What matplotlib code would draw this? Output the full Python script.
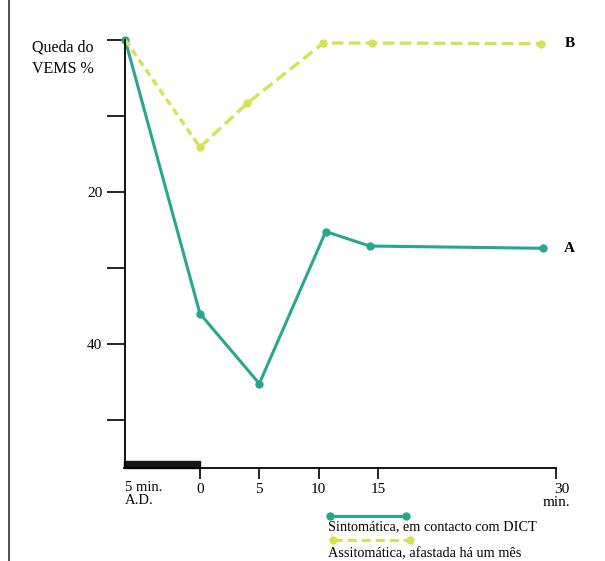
import matplotlib
matplotlib.use("Agg")
import matplotlib.pyplot as plt
from matplotlib.lines import Line2D
from matplotlib.patches import Rectangle
import matplotlib.transforms as mtransforms

plt.rcParams['font.family'] = ['Liberation Serif', 'DejaVu Serif']

# minutos (o ponto -6.3 corresponde a "5 min. A.D.")
x_sint = [-6.3, 0, 5.0, 10.6, 14.3, 28.9]
y_sint = [0, 36.0, 45.2, 25.2, 27.1, 27.4]

x_assint = [-6.3, 0, 4.0, 10.4, 14.5, 28.7]
y_assint = [0, 14.1, 8.3, 0.4, 0.4, 0.5]

yticks = [0, 10, 20, 30, 40, 50]
ytick_labels = ["", "", "20", "", "40", ""]
xticks = [0, 5, 10, 15, 30]
xtick_labels = ["0", "5", "10", "15", "30\nmin."]

verde = "#2aa58f"
amarelo = "#d4e256"

fig = plt.figure(figsize=(6.05, 5.61), dpi=100)
ax = fig.add_axes([124.5 / 605, 1 - 468 / 561, (556 - 124.5) / 605, (468 - 40) / 561])

ax.plot(x_sint, y_sint, color=verde, lw=2.2, marker="o", ms=5, clip_on=False)
ax.plot(x_assint[1:], y_assint[1:], color=amarelo, lw=2.4, ls=(0, (3.5, 1.6)),
        marker="o", ms=5, clip_on=False)
ax.plot(x_assint[:2], y_assint[:2], color=amarelo, lw=2.4, ls=(0, (2.2, 1.4)), clip_on=False)

ax.set_xlim(-6.36, 30)
ax.set_ylim(56.3, 0)

for s in ["top", "right"]:
    ax.spines[s].set_visible(False)
ax.spines["left"].set_linewidth(1.3)
ax.spines["bottom"].set_linewidth(1.3)

ax.set_yticks(yticks)
ax.set_yticklabels(ytick_labels, fontsize=11)
ax.tick_params(axis="y", length=13, width=1.2, pad=3)
ax.set_xticks(xticks)
ax.set_xticklabels(xtick_labels, fontsize=11, multialignment="right", linespacing=0.95)
ax.tick_params(axis="x", length=8, width=1.2, pad=3)

# barra preta antes do tempo 0
trans = mtransforms.blended_transform_factory(ax.transData, ax.transAxes)
ax.add_patch(Rectangle((-6.36, 0), 6.36, 0.017, transform=trans,
                       color="#1a1414", clip_on=False))

ax.text(-6.3, 56.3, "\n5 min.\nA.D.", fontsize=10.5, va="top", ha="left",
        linespacing=1.0)
ax.text(30.7, 27.4, "A", fontsize=11, fontweight="bold", va="center")
ax.text(30.7, 0.4, "B", fontsize=11, fontweight="bold", va="center")

fig.text(32 / 605, 1 - 40 / 561, "Queda do\nVEMS %", fontsize=11.5, va="top",
         ha="left", linespacing=1.45)

# legenda
fig.add_artist(Line2D([330 / 605, 406 / 605], [1 - 516 / 561] * 2, color=verde,
                      lw=2.2, marker="o", ms=5))
fig.text(328 / 605, 1 - 527 / 561, "Sintomática, em contacto com DICT",
         fontsize=10.3, va="center", ha="left")
fig.add_artist(Line2D([333 / 605, 410 / 605], [1 - 540 / 561] * 2, color=amarelo,
                      lw=2.2, ls=(0, (3, 1.6)), marker="o", ms=5))
fig.text(328 / 605, 1 - 554 / 561, "Assitomática, afastada há um mês",
         fontsize=10.3, va="center", ha="left")

# borda esquerda
fig.add_artist(Line2D([9 / 605, 9 / 605], [0, 1], color="#4a3f3a", lw=1.3))

fig.savefig("out.png", dpi=100)
